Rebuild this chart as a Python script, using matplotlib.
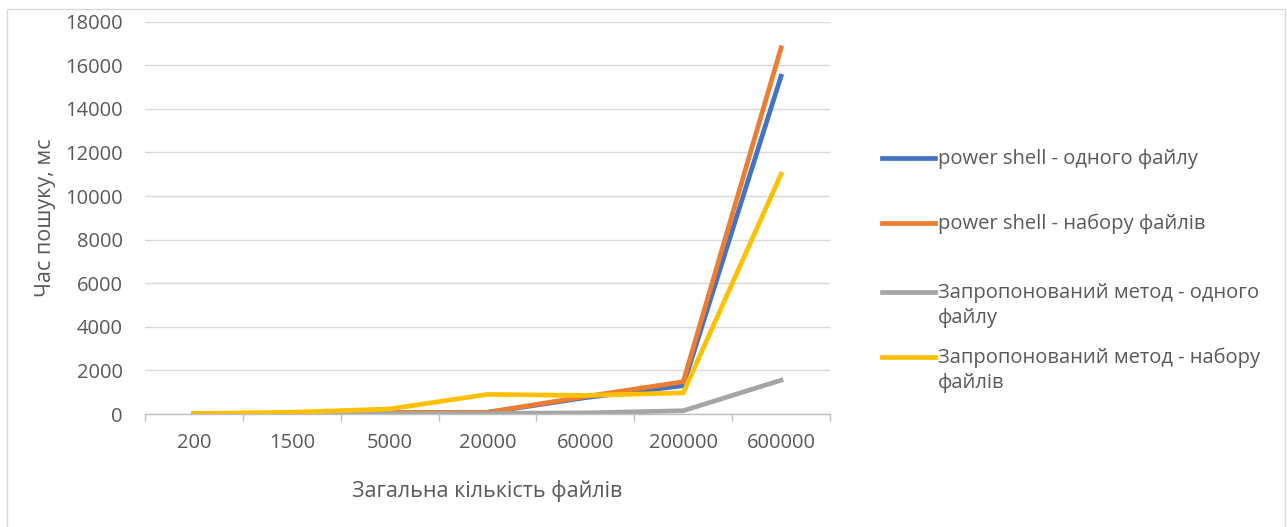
import matplotlib
matplotlib.use('Agg')
import matplotlib.pyplot as plt
from matplotlib.lines import Line2D
from matplotlib.patches import Rectangle

plt.rcParams['font.family'] = ['Open Sans', 'DejaVu Sans']

categories = ['200', '1500', '5000', '20000', '60000', '200000', '600000']
ps_one = [10, 30, 60, 70, 750, 1300, 15500]
ps_set = [15, 40, 70, 80, 800, 1480, 16800]
new_one = [5, 10, 20, 30, 50, 150, 1550]
new_set = [20, 80, 230, 900, 850, 970, 11000]

names = ['power shell - одного файлу', 'power shell - набору файлів',
         'Запропонований метод - одного\nфайлу', 'Запропонований метод - набору\nфайлів']
colors = ['#4472C4', '#ED7D31', '#A5A5A5', '#FFC000']
series = [ps_one, ps_set, new_one, new_set]

text_col = '#595959'
grid_col = '#D9D9D9'
fs = 14.5

fig = plt.figure(figsize=(12.87, 5.27), dpi=100)
W, H = 1287, 527
ax = fig.add_axes([145/W, 1 - 414/H, (830-145)/W, (414-21.7)/H])

x = range(len(categories))
for vals, c, n in zip(series, colors, names):
    ax.plot(x, vals, color=c, lw=3.4, solid_joinstyle='miter', label=n)

ax.set_xlim(-0.5, len(categories) - 0.5)
ax.set_ylim(0, 18000)
ax.set_yticks(range(0, 18001, 2000))
ax.set_xticks(list(x))
ax.set_xticklabels(categories)
ax.set_xticks([i - 0.5 for i in range(len(categories) + 1)], minor=True)

ax.grid(axis='y', color=grid_col, lw=1)
ax.set_axisbelow(True)
for s in ['top', 'right', 'left']:
    ax.spines[s].set_visible(False)
ax.spines['bottom'].set_color('#BFBFBF')
ax.spines['bottom'].set_linewidth(1)

ax.tick_params(axis='y', length=0, pad=16, labelsize=fs, labelcolor=text_col)
ax.tick_params(axis='x', which='major', length=0, pad=14, labelsize=fs, labelcolor=text_col)
ax.tick_params(axis='x', which='minor', length=5, color='#BFBFBF', width=1)

ax.set_ylabel('Час пошуку, мс', fontsize=15.5, color=text_col)
ax.yaxis.set_label_coords(-0.13, 0.5)
ax.set_xlabel('Загальна кількість файлів', fontsize=15.5, color=text_col)
ax.xaxis.set_label_coords(0.5, -0.168)

# legend drawn by hand so the line sits on the first row of wrapped labels
leg_y = [158, 223, 292, 357]
for yy, c, n in zip(leg_y, colors, names):
    fig.add_artist(Line2D([882/W, 935/W], [1 - yy/H, 1 - yy/H], color=c, lw=3.4,
                          transform=fig.transFigure))
    for k, part in enumerate(n.split('\n')):
        fig.text(938/W, 1 - (yy + 6 + 25*k)/H, part, fontsize=fs, color=text_col,
                 va='baseline', ha='left')

fig.add_artist(Rectangle((7/W, -0.02), (1285-7)/W, 1.02 - 9/H, fill=False,
                         edgecolor=grid_col, lw=1, transform=fig.transFigure))

fig.savefig('out.png', dpi=100)
